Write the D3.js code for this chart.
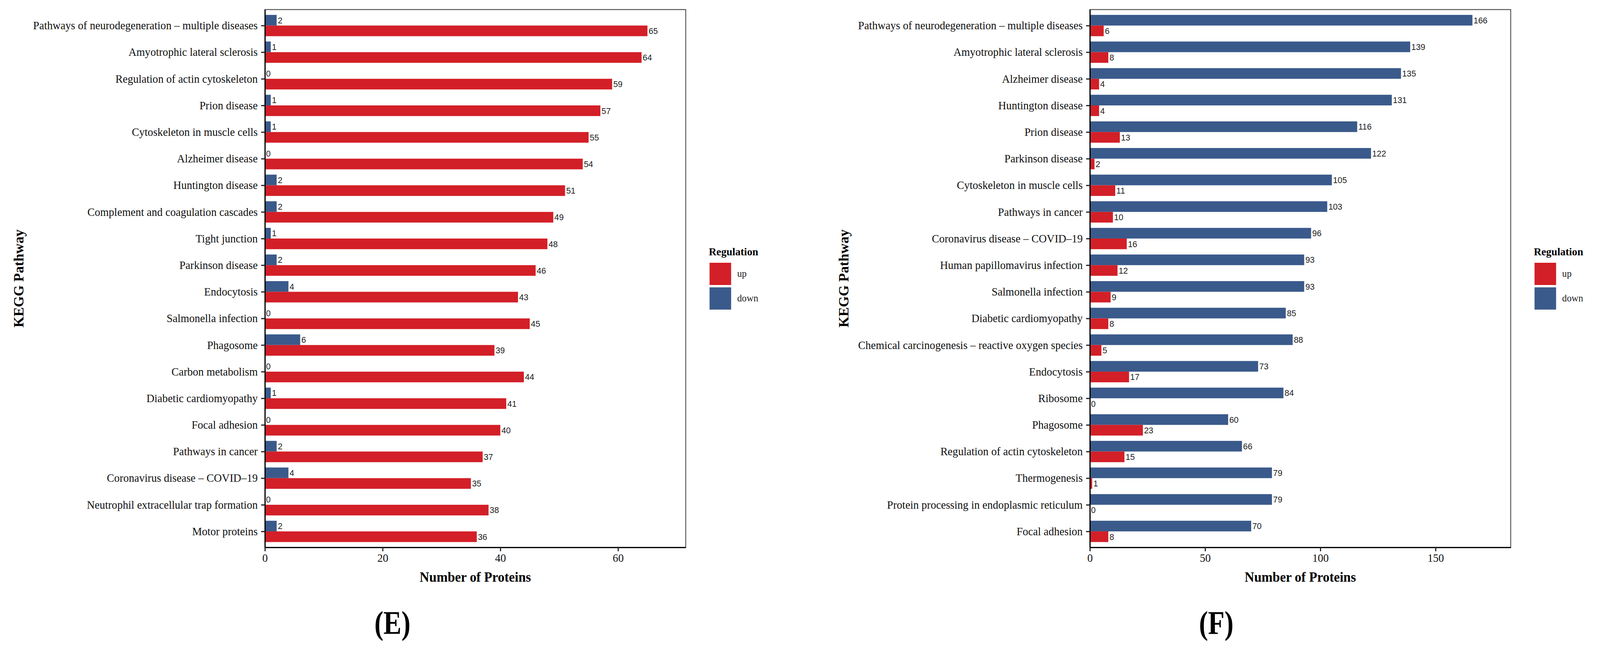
<!DOCTYPE html>
<html>
<head>
<meta charset="utf-8">
<script src="https://cdn.jsdelivr.net/npm/d3@7"></script>
<style>
  html, body { margin: 0; padding: 0; background: #fff; overflow: hidden; }
  svg { display: block; width: 100vw; height: 100vh; }
</style>
</head>
<body>
<div id="chart"></div>
<script>
// Panel E
const eCategories = [
  "Pathways of neurodegeneration – multiple diseases",
  "Amyotrophic lateral sclerosis",
  "Regulation of actin cytoskeleton",
  "Prion disease",
  "Cytoskeleton in muscle cells",
  "Alzheimer disease",
  "Huntington disease",
  "Complement and coagulation cascades",
  "Tight junction",
  "Parkinson disease",
  "Endocytosis",
  "Salmonella infection",
  "Phagosome",
  "Carbon metabolism",
  "Diabetic cardiomyopathy",
  "Focal adhesion",
  "Pathways in cancer",
  "Coronavirus disease – COVID–19",
  "Neutrophil extracellular trap formation",
  "Motor proteins"
];
const eUp = [65, 64, 59, 57, 55, 54, 51, 49, 48, 46, 43, 45, 39, 44, 41, 40, 37, 35, 38, 36];
const eDown = [2, 1, 0, 1, 1, 0, 2, 2, 1, 2, 4, 0, 6, 0, 1, 0, 2, 4, 0, 2];
const eTicks = [0, 20, 40, 60];

// Panel F
const fCategories = [
  "Pathways of neurodegeneration – multiple diseases",
  "Amyotrophic lateral sclerosis",
  "Alzheimer disease",
  "Huntington disease",
  "Prion disease",
  "Parkinson disease",
  "Cytoskeleton in muscle cells",
  "Pathways in cancer",
  "Coronavirus disease – COVID–19",
  "Human papillomavirus infection",
  "Salmonella infection",
  "Diabetic cardiomyopathy",
  "Chemical carcinogenesis – reactive oxygen species",
  "Endocytosis",
  "Ribosome",
  "Phagosome",
  "Regulation of actin cytoskeleton",
  "Thermogenesis",
  "Protein processing in endoplasmic reticulum",
  "Focal adhesion"
];
const fUp = [6, 8, 4, 4, 13, 2, 11, 10, 16, 12, 9, 8, 5, 17, 0, 23, 15, 1, 0, 8];
const fDown = [166, 139, 135, 131, 116, 122, 105, 103, 96, 93, 93, 85, 88, 73, 84, 60, 66, 79, 79, 70];
const fTicks = [0, 50, 100, 150];

const regulation = ["up", "down"];
const regulationColors = ["#d31f27", "#3a5a8b"];

const serif = '"Liberation Serif", "Times New Roman", serif';
const sans = '"Liberation Sans", Arial, sans-serif';

// Vaste tekenruimte van 4228x1670, uitgerekt over het hele venster.
const svg = d3
  .select("#chart")
  .append("svg")
  .attr("viewBox", "0 0 4228 1670")
  .attr("preserveAspectRatio", "none");

svg.append("rect").attr("width", 4228).attr("height", 1670).attr("fill", "#fff");

const color = d3.scaleOrdinal().domain(regulation).range(regulationColors);

function drawPanel(cfg) {
  const w = 1112;
  const h = 1377.5;
  const g = svg
    .append("g")
    .attr("transform", "translate(" + cfg.left + "," + cfg.top + ")");

  // Een rij per pathway, twee balken per rij.
  const bars = [];
  cfg.categories.forEach(function (c, i) {
    bars.push({ name: c, key: "down", value: cfg.down[i] });
    bars.push({ name: c, key: "up", value: cfg.up[i] });
  });

  const x = d3
    .scaleLinear()
    .domain([0, d3.max(bars, (d) => d.value) * 1.1])
    .range([0, w]);
  const y = d3.scalePoint().domain(cfg.categories).range([0, h]).padding(0.6);
  const sub = d3
    .scaleBand()
    .domain(["down", "up"])
    .range([-0.4 * y.step(), 0.4 * y.step()]);

  g.selectAll(".bar")
    .data(bars)
    .enter()
    .append("rect")
    .attr("class", "bar")
    .attr("x", 0)
    .attr("y", (d) => y(d.name) + sub(d.key))
    .attr("width", (d) => x(d.value))
    .attr("height", sub.bandwidth())
    .attr("fill", (d) => color(d.key));

  g.selectAll(".value")
    .data(bars)
    .enter()
    .append("text")
    .attr("class", "value")
    .attr("x", (d) => x(d.value) + 3)
    .attr("y", (d) => y(d.name) + sub(d.key) + sub.bandwidth() / 2)
    .attr("dy", "0.36em")
    .style("font-family", sans)
    .style("font-size", "22px")
    .style("fill", "#222")
    .text((d) => d.value);

  // Paneelrand (grijs), daarna de zwarte assen eroverheen.
  g.append("rect")
    .attr("width", w)
    .attr("height", h)
    .attr("fill", "none")
    .attr("stroke", "#5a5a5a")
    .attr("stroke-width", 2.5);

  const yAxis = g
    .append("g")
    .call(d3.axisLeft(y).tickSize(10).tickSizeOuter(0).tickPadding(9));
  const xAxis = g
    .append("g")
    .attr("transform", "translate(0," + h + ")")
    .call(
      d3.axisBottom(x).tickValues(cfg.ticks).tickSize(10).tickSizeOuter(0).tickPadding(6)
    );

  [yAxis, xAxis].forEach(function (a) {
    a.select(".domain").attr("stroke", "#000").attr("stroke-width", 3);
    a.selectAll(".tick line").attr("stroke", "#222").attr("stroke-width", 3);
    a.selectAll(".tick text")
      .style("font-family", serif)
      .style("font-size", "29px")
      .style("fill", "#111");
  });

  // Astitels
  g.append("text")
    .attr("x", w / 2)
    .attr("y", 1490 - cfg.top)
    .attr("text-anchor", "middle")
    .style("font-family", serif)
    .style("font-weight", "bold")
    .style("font-size", "35px")
    .text("Number of Proteins");

  g.append("text")
    .attr("transform", "translate(" + (62 - 700) + "," + h / 2 + ") rotate(-90)")
    .attr("text-anchor", "middle")
    .style("font-family", serif)
    .style("font-weight", "bold")
    .style("font-size", "36px")
    .text("KEGG Pathway");

  // Legenda rechts van het paneel
  const legend = g
    .append("g")
    .attr("transform", "translate(" + (w + 61) + "," + (654 - cfg.top) + ")");
  legend
    .append("text")
    .style("font-family", serif)
    .style("font-weight", "bold")
    .style("font-size", "28px")
    .text("Regulation");
  regulation.forEach(function (k, i) {
    legend
      .append("rect")
      .attr("x", 2)
      .attr("y", 19 + i * 63)
      .attr("width", 57)
      .attr("height", 57)
      .attr("fill", color(k));
    legend
      .append("text")
      .attr("x", 75)
      .attr("y", 19 + i * 63 + 28.5)
      .attr("dy", "0.3em")
      .style("font-family", serif)
      .style("font-size", "25px")
      .style("fill", "#222")
      .text(k);
  });

  // Paneellabel (E) / (F)
  svg
    .append("text")
    .attr("transform", "translate(" + cfg.labelX + ",1624) scale(0.85,1)")
    .attr("text-anchor", "middle")
    .style("font-family", serif)
    .style("font-weight", "bold")
    .style("font-size", "84px")
    .text(cfg.label);
}

drawPanel({
  left: 700,
  top: 24.5,
  categories: eCategories,
  up: eUp,
  down: eDown,
  ticks: eTicks,
  label: "(E)",
  labelX: 1037
});

drawPanel({
  left: 2880,
  top: 24.5,
  categories: fCategories,
  up: fUp,
  down: fDown,
  ticks: fTicks,
  label: "(F)",
  labelX: 3214
});
</script>
</body>
</html>
